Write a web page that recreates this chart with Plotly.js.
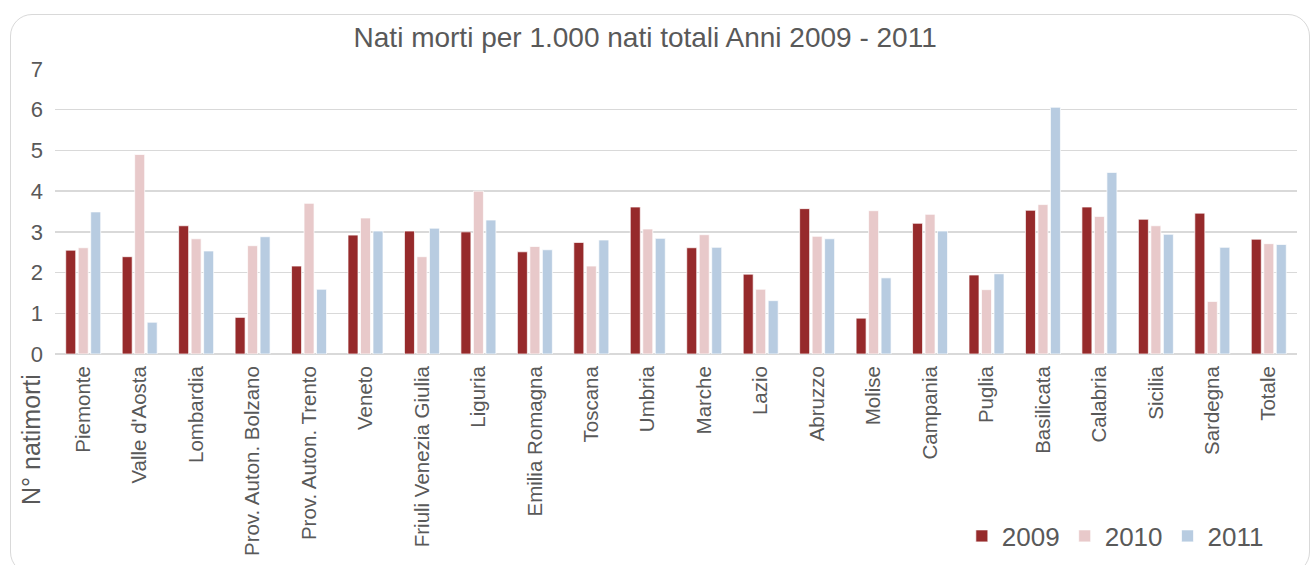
<!DOCTYPE html>
<html>
<head>
<meta charset="utf-8">
<script src="https://cdn.plot.ly/plotly-3.0.1.min.js"></script>
<style>
  html, body { margin: 0; padding: 0; background: #ffffff; }
  #wrap { position: relative; width: 1314px; height: 565px; overflow: hidden; }
  #frame {
    position: absolute; left: 10px; top: 14px; width: 1300px; height: 560px;
    border: 1.5px solid #d9d9d9; border-radius: 22px; box-sizing: border-box;
  }
  #chart { position: absolute; left: 0; top: 0; width: 1314px; height: 565px; }
</style>
</head>
<body>
<div id="wrap">
  <div id="frame"></div>
  <div id="chart"></div>
</div>
<script>
// Regions of Italy (plus the national total)
const regions = [
  "Piemonte", "Valle d'Aosta", "Lombardia", "Prov. Auton. Bolzano", "Prov. Auton. Trento",
  "Veneto", "Friuli Venezia Giulia", "Liguria", "Emilia Romagna", "Toscana", "Umbria",
  "Marche", "Lazio", "Abruzzo", "Molise", "Campania", "Puglia", "Basilicata",
  "Calabria", "Sicilia", "Sardegna", "Totale"
];

// Stillbirths per 1,000 total births, by year
const y2009 = [2.55, 2.39, 3.15, 0.90, 2.16, 2.92, 3.02, 3.00, 2.51, 2.74, 3.61,
               2.61, 1.96, 3.57, 0.88, 3.21, 1.94, 3.53, 3.61, 3.31, 3.46, 2.82];
const y2010 = [2.61, 4.90, 2.83, 2.66, 3.70, 3.34, 2.39, 4.00, 2.64, 2.16, 3.07,
               2.93, 1.59, 2.89, 3.52, 3.43, 1.58, 3.67, 3.38, 3.15, 1.29, 2.71];
const y2011 = [3.49, 0.78, 2.53, 2.88, 1.59, 3.02, 3.09, 3.29, 2.56, 2.80, 2.84,
               2.62, 1.31, 2.83, 1.87, 3.02, 1.97, 6.06, 4.46, 2.94, 2.62, 2.69];

const yearNames = ["2009", "2010", "2011"];
const yearColors = ["#962a2b", "#e8c9ca", "#b8cce1"];
const yTicks = [0, 1, 2, 3, 4, 5, 6, 7];

const textColor = "#595959";
const fontFamily = "'Liberation Sans', Arial, sans-serif";

const traces = [y2009, y2010, y2011].map((vals, i) => ({
  type: "bar",
  name: yearNames[i],
  x: regions,
  y: vals,
  marker: { color: yearColors[i], line: { color: "rgba(255,255,255,0.7)", width: 1 } },
  hoverinfo: "x+y+name"
}));

const layout = {
  width: 1314,
  height: 565,
  paper_bgcolor: "rgba(0,0,0,0)",
  plot_bgcolor: "rgba(0,0,0,0)",
  margin: { l: 55, r: 17, t: 69, b: 211, pad: 0 },
  font: { family: fontFamily, color: textColor },
  title: {
    text: "Nati morti per 1.000 nati totali Anni 2009 - 2011",
    font: { size: 28, color: textColor, family: fontFamily },
    x: 0.491, xref: "container", xanchor: "center",
    y: 0.935, yref: "container", yanchor: "middle"
  },
  barmode: "group",
  bargap: 0.336,
  bargroupgap: 0.2,
  xaxis: {
    type: "category",
    automargin: false,
    tickangle: -90,
    tickfont: { size: 20.5, color: textColor },
    showgrid: false,
    showline: false,
    ticks: "",
    zeroline: false,
    ticklabelstandoff: 7
  },
  yaxis: {
    range: [0, 7],
    automargin: false,
    tickvals: yTicks,
    ticktext: yTicks.map(String),
    tickfont: { size: 22, color: textColor },
    showgrid: true,
    gridcolor: "#d9d9d9",
    gridwidth: 1.5,
    zeroline: true,
    zerolinecolor: "#d9d9d9",
    zerolinewidth: 1.5,
    showline: false,
    ticks: "",
    ticklabelstandoff: 11
  },
  showlegend: true,
  legend: {
    orientation: "h",
    xref: "container", yref: "container",
    x: 0.732, xanchor: "left",
    y: 1 - 536 / 565, yanchor: "middle",
    font: { size: 26, color: textColor },
    bgcolor: "rgba(0,0,0,0)",
    itemclick: false
  },
  annotations: [{
    text: "N° natimorti",
    xref: "paper", yref: "paper",
    x: (31 - 55) / 1242, y: (354 - 440) / 285,
    xanchor: "center", yanchor: "middle",
    textangle: -90,
    showarrow: false,
    font: { size: 25, color: textColor }
  }]
};

Plotly.newPlot("chart", traces, layout, { displayModeBar: false, staticPlot: true });
</script>
</body>
</html>
